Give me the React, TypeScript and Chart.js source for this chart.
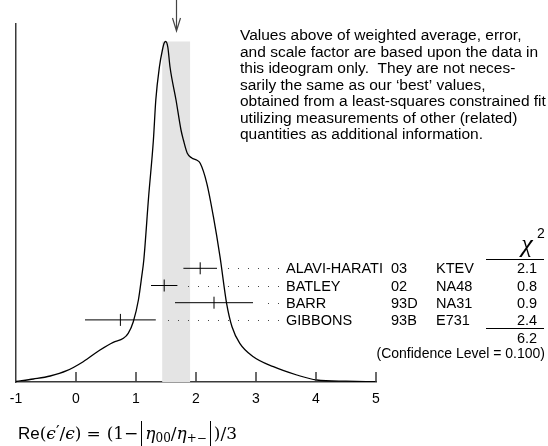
import React, { useEffect, useRef } from "react";
import { Chart, registerables } from "chart.js";

Chart.register(...registerables);

// ---------------- data ----------------
const xTickValues = [-1, 0, 1, 2, 3, 4, 5];

const curveX = [
  -1.0, -0.71, -0.43, -0.155, 0.12, 0.4, 0.62, 0.79, 0.87, 0.955, 1.04, 1.095,
  1.13, 1.21, 1.29, 1.33, 1.39, 1.44, 1.47, 1.495, 1.53, 1.567, 1.667, 1.75,
  1.79, 1.855, 1.93, 2.01, 2.07, 2.18, 2.29, 2.4, 2.51, 2.6, 2.73, 2.955, 3.29,
  3.68, 4.01, 4.5, 5.0,
];
const curveY = [
  0.5, 3, 6, 11.3, 20.3, 32, 39.7, 43.7, 48.7, 60.3, 82, 105.3, 122, 185, 242,
  282, 315, 332, 339, 340.5, 335, 315, 282, 252, 242, 228.7, 224, 222, 218.7,
  198.7, 165.3, 125.3, 78.7, 55.3, 38.7, 25.3, 15.3, 7, 2, 0.8, 0.3,
];

const authors = ["ALAVI-HARATI", "BATLEY", "BARR", "GIBBONS"];
const years = ["03", "02", "93D", "93B"];
const experiments = ["KTEV", "NA48", "NA31", "E731"];
const values = [2.07, 1.47, 2.3, 0.74];
const errors = [0.28, 0.22, 0.65, 0.59];
const chi2Values = ["2.1", "0.8", "0.9", "2.4"];
const chi2Total = "6.2";
const confidenceLevel = "0.100";

const weightedAverage = 1.67;
const averageError = 0.235;

const noteLines = [
  "Values above of weighted average, error,",
  "and scale factor are based upon the data in",
  "this ideogram only.  They are not neces-",
  "sarily the same as our \u2018best\u2019 values,",
  "obtained from a least-squares constrained fit",
  "utilizing measurements of other (related)",
  "quantities as additional information.",
];

// ---------------- layout / style ----------------
const W = 548;
const H = 446;
const SANS = "'Liberation Sans', Arial, Helvetica, sans-serif";
const SERIF = "'Liberation Serif', 'DejaVu Serif', serif";
const MATH = "'DejaVu Serif', 'Liberation Serif', serif";
const Y_MAX = 358;
const ROW_TOP = 113.7;
const ROW_STEP = 17.2;
const rowLevel = (i: number) => ROW_TOP - i * ROW_STEP;
const AXIS_COLOR = "#3a3a3a";

const overlayPlugin = {
  id: "overlay",
  afterDraw(chart: any) {
    const { ctx, chartArea } = chart;
    const xs = chart.scales.x;
    const ys = chart.scales.y;
    ctx.save();

    // inward tick marks
    ctx.strokeStyle = AXIS_COLOR;
    ctx.lineWidth = 1.5;
    for (const t of xTickValues) {
      if (t === xTickValues[0]) continue;
      const px = Math.round(xs.getPixelForValue(t));
      ctx.beginPath();
      ctx.moveTo(px, chartArea.bottom);
      ctx.lineTo(px, chartArea.bottom - 10);
      ctx.stroke();
    }

    // arrow at weighted average
    const ax = Math.round(xs.getPixelForValue(weightedAverage)) + 0.5;
    ctx.strokeStyle = "#444";
    ctx.lineWidth = 1.2;
    ctx.beginPath();
    ctx.moveTo(ax, 0);
    ctx.lineTo(ax, 31);
    ctx.moveTo(ax - 4, 18);
    ctx.lineTo(ax, 31);
    ctx.lineTo(ax + 4, 18);
    ctx.stroke();

    // dotted leaders
    ctx.fillStyle = "#444";
    const leaderEnd = 278;
    values.forEach((v, i) => {
      const start = xs.getPixelForValue(v + errors[i]) + 10;
      const py = Math.round(ys.getPixelForValue(rowLevel(i)));
      for (let dx = leaderEnd; dx >= start; dx -= 10) {
        ctx.fillRect(dx, py, 1, 1);
      }
    });

    // row labels
    ctx.fillStyle = "#000";
    ctx.font = `14.5px ${SANS}`;
    ctx.textBaseline = "alphabetic";
    authors.forEach((a, i) => {
      const py = ys.getPixelForValue(rowLevel(i)) + 5;
      ctx.textAlign = "left";
      ctx.fillText(a, 286, py);
      ctx.fillText(years[i], 391, py);
      ctx.fillText(experiments[i], 436, py);
      ctx.textAlign = "center";
      ctx.fillText(chi2Values[i], 527, py);
    });

    // chi2 header and sum lines
    ctx.textAlign = "center";
    ctx.font = `italic 26px ${SERIF}`;
    ctx.fillText("\u03C7", 527, 252);
    ctx.font = `14px ${SANS}`;
    ctx.fillText("2", 541, 238);
    ctx.strokeStyle = "#000";
    ctx.lineWidth = 1;
    ctx.beginPath();
    ctx.moveTo(486, 259.5);
    ctx.lineTo(544, 259.5);
    ctx.moveTo(486, 328.5);
    ctx.lineTo(544, 328.5);
    ctx.stroke();
    ctx.font = `14.5px ${SANS}`;
    ctx.fillText(chi2Total, 527, 343);
    ctx.textAlign = "right";
    ctx.font = `14px ${SANS}`;
    ctx.fillText(`(Confidence Level = ${confidenceLevel})`, 545, 358);

    // note paragraph
    ctx.textAlign = "left";
    ctx.font = `15.5px ${SANS}`;
    noteLines.forEach((line, i) => {
      ctx.fillText(line, 240, 40 + i * 16.5);
    });

    // formula
    const base = 439;
    let cx = 18;
    const runs: any[] = [
      { t: "Re", f: `17px ${SANS}` },
      { t: "(", f: `17px ${MATH}` },
      { t: "\u03F5", f: `italic 17px ${MATH}` },
      { t: "\u2032", f: `16px ${MATH}`, dy: -2 },
      { t: "/", f: `17px ${MATH}` },
      { t: "\u03F5", f: `italic 17px ${MATH}` },
      { t: ")", f: `17px ${MATH}` },
      { gap: 5 },
      { t: "=", f: `17px ${MATH}` },
      { gap: 6 },
      { t: "(1\u2212", f: `17px ${MATH}` },
      { bar: true },
      { t: "\u03B7", f: `italic 17px ${MATH}` },
      { t: "00", f: `12px ${MATH}`, dy: 3 },
      { t: "/", f: `17px ${MATH}` },
      { t: "\u03B7", f: `italic 17px ${MATH}` },
      { t: "+\u2212", f: `12px ${MATH}`, dy: 3 },
      { bar: true },
      { t: ")/3", f: `17px ${MATH}` },
    ];
    ctx.textAlign = "left";
    ctx.strokeStyle = "#000";
    ctx.lineWidth = 1;
    for (const r of runs) {
      if (r.gap) {
        cx += r.gap;
        continue;
      }
      if (r.bar) {
        ctx.beginPath();
        ctx.moveTo(Math.round(cx + 3) + 0.5, 421);
        ctx.lineTo(Math.round(cx + 3) + 0.5, 446);
        ctx.stroke();
        cx += 7;
        continue;
      }
      ctx.font = r.f;
      ctx.fillText(r.t, cx, base + (r.dy || 0));
      cx += ctx.measureText(r.t).width;
    }

    ctx.restore();
  },
};

export default function App() {
  const ref = useRef<HTMLCanvasElement | null>(null);

  useEffect(() => {
    document.body.style.margin = "0";
    const canvas = ref.current;
    if (!canvas) return;
    Chart.defaults.font.family = SANS;

    const peak = Math.max(...curveY);
    const datasets: any[] = [];

    datasets.push({
      label: "ideogram",
      data: curveX.map((x, i) => ({ x, y: curveY[i] })),
      showLine: true,
      borderColor: "#000",
      borderWidth: 1.3,
      pointRadius: 0,
      cubicInterpolationMode: "monotone",
      fill: false,
      order: 0,
    });

    values.forEach((v, i) => {
      datasets.push({
        label: authors[i],
        data: [
          { x: v - errors[i], y: rowLevel(i) },
          { x: v + errors[i], y: rowLevel(i) },
        ],
        showLine: true,
        borderColor: "#000",
        borderWidth: 1,
        pointRadius: 0,
        fill: false,
        order: 1,
      });
    });

    datasets.push({
      label: "centres",
      data: values.map((v, i) => ({ x: v, y: rowLevel(i) })),
      showLine: false,
      pointStyle: "line",
      rotation: 90,
      pointRadius: 6,
      borderColor: "#000",
      borderWidth: 1,
      order: 1,
    });

    datasets.push({
      label: "band",
      data: [
        { x: weightedAverage - averageError, y: peak },
        { x: weightedAverage + averageError, y: peak },
      ],
      showLine: true,
      borderWidth: 0,
      borderColor: "rgba(0,0,0,0)",
      backgroundColor: "#e4e4e4",
      pointRadius: 0,
      fill: "origin",
      order: 5,
    });

    const chart = new Chart(canvas, {
      type: "scatter",
      data: { datasets },
      options: {
        animation: false,
        responsive: false,
        maintainAspectRatio: false,
        layout: { padding: { left: 0, top: 24, right: W - 376, bottom: 0 } },
        plugins: { legend: { display: false }, tooltip: { enabled: false } },
        scales: {
          x: {
            type: "linear",
            min: -1,
            max: 5,
            afterBuildTicks: (s: any) => {
              s.ticks = xTickValues.map((v) => ({ value: v }));
            },
            afterFit: (s: any) => {
              s.height = H - 382;
            },
            ticks: {
              color: "#000",
              font: { size: 14, family: SANS },
              padding: 9,
              maxRotation: 0,
              autoSkip: false,
            },
            grid: { display: false, drawTicks: false },
            border: { display: true, color: AXIS_COLOR, width: 1.5 },
          },
          y: {
            type: "linear",
            min: 0,
            max: Y_MAX,
            afterFit: (s: any) => {
              s.width = 16;
            },
            ticks: { display: false },
            grid: { display: false, drawTicks: false },
            border: { display: true, color: AXIS_COLOR, width: 1.5 },
          },
        },
      },
      plugins: [overlayPlugin],
    });

    return () => chart.destroy();
  }, []);

  return (
    <div style={{ position: "absolute", left: 0, top: 0, width: W, height: H }}>
      <canvas ref={ref} width={W} height={H} style={{ display: "block" }} />
    </div>
  );
}
